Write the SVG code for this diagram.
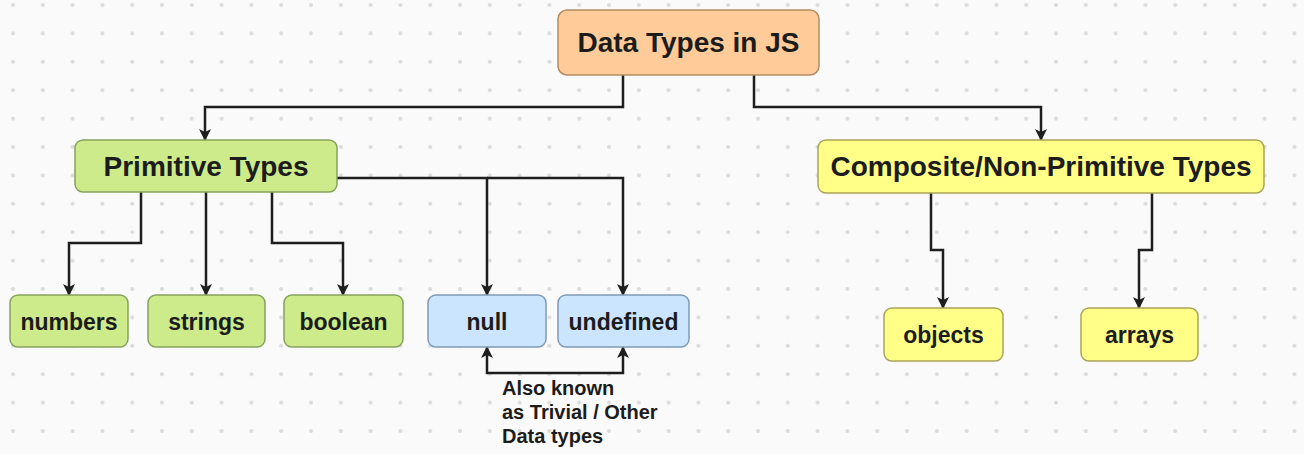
<svg xmlns="http://www.w3.org/2000/svg" width="1304" height="454" viewBox="0 0 1304 454">
  <defs>
    <pattern id="dots" x="13" y="5" width="29.8" height="28.4" patternUnits="userSpaceOnUse">
      <circle cx="0" cy="0" r="2" fill="#dadada"/>
      <circle cx="29.8" cy="0" r="2" fill="#dadada"/>
      <circle cx="0" cy="28.4" r="2" fill="#dadada"/>
      <circle cx="29.8" cy="28.4" r="2" fill="#dadada"/>
    </pattern>
    <marker id="arrow" viewBox="0 0 12 12" refX="11" refY="6" markerWidth="12" markerHeight="12" markerUnits="userSpaceOnUse" orient="auto-start-reverse">
      <path d="M0,0 L12,6 L0,12 L3,6 Z" fill="#1e1e1e"/>
    </marker>
  </defs>
  <style>
    .node rect { stroke-width: 1.5; }
    .root rect { fill: #ffcc99; stroke: #b48c64; }
    .prim rect { fill: #cdeb8b; stroke: #86a35e; }
    .triv rect { fill: #cce5ff; stroke: #7f9ab8; }
    .comp rect { fill: #ffff88; stroke: #aaa45a; }
    .node text { font-family: "Liberation Sans", Arial, sans-serif; font-weight: bold; fill: #1c1c1c; text-anchor: middle; }
    .big { font-size: 28px; }
    .small { font-size: 23px; }
    .note { font-family: "Liberation Sans", Arial, sans-serif; font-weight: bold; font-size: 20px; fill: #1c1c1c; }
    .edges path { fill: none; stroke: #1e1e1e; stroke-width: 2.5; }
  </style>

  <rect width="1304" height="454" fill="#fafafa"/>
  <rect width="1304" height="454" fill="url(#dots)"/>

  <g class="edges">
    <path d="M623,75 V107 H205 V140" marker-end="url(#arrow)"/>
    <path d="M754,75 V107 H1041 V140" marker-end="url(#arrow)"/>
    <path d="M141,192 V243 H69 V295" marker-end="url(#arrow)"/>
    <path d="M206,192 V295" marker-end="url(#arrow)"/>
    <path d="M272,192 V243 H343 V295" marker-end="url(#arrow)"/>
    <path d="M337,178 H487 V295" marker-end="url(#arrow)"/>
    <path d="M487,178 H623 V295" marker-end="url(#arrow)"/>
    <path d="M487,347 V373 H623 V347" marker-start="url(#arrow)" marker-end="url(#arrow)"/>
    <path d="M931,193 V250 H943 V308" marker-end="url(#arrow)"/>
    <path d="M1152,193 V250 H1139 V308" marker-end="url(#arrow)"/>
  </g>

  <g id="data-types" class="node root">
    <rect x="558" y="10" width="261" height="65" rx="9"/>
    <text class="big" x="688.5" y="52">Data Types in JS</text>
  </g>
  <g id="primitive" class="node prim">
    <rect x="75" y="140" width="262" height="52" rx="8"/>
    <text class="big" x="206" y="176">Primitive Types</text>
  </g>
  <g id="composite" class="node comp">
    <rect x="818" y="140" width="446" height="53" rx="8"/>
    <text class="big" x="1041" y="176">Composite/Non-Primitive Types</text>
  </g>
  <g id="numbers" class="node prim">
    <rect x="10" y="295" width="118" height="52" rx="8"/>
    <text class="small" x="69" y="330">numbers</text>
  </g>
  <g id="strings" class="node prim">
    <rect x="148" y="295" width="117" height="52" rx="8"/>
    <text class="small" x="206.5" y="330">strings</text>
  </g>
  <g id="boolean" class="node prim">
    <rect x="284" y="295" width="119" height="52" rx="8"/>
    <text class="small" x="343.5" y="330">boolean</text>
  </g>
  <g id="null" class="node triv">
    <rect x="428" y="295" width="118" height="52" rx="8"/>
    <text class="small" x="487" y="330">null</text>
  </g>
  <g id="undefined" class="node triv">
    <rect x="558" y="295" width="131" height="52" rx="8"/>
    <text class="small" x="623.5" y="330">undefined</text>
  </g>
  <g id="objects" class="node comp">
    <rect x="884" y="308" width="119" height="53" rx="8"/>
    <text class="small" x="943.5" y="343">objects</text>
  </g>
  <g id="arrays" class="node comp">
    <rect x="1081" y="308" width="117" height="53" rx="8"/>
    <text class="small" x="1139.5" y="343">arrays</text>
  </g>

  <g id="trivial-note">
    <text class="note" x="502" y="395">Also known</text>
    <text class="note" x="502" y="419">as Trivial / Other</text>
    <text class="note" x="502" y="443">Data types</text>
  </g>
</svg>
